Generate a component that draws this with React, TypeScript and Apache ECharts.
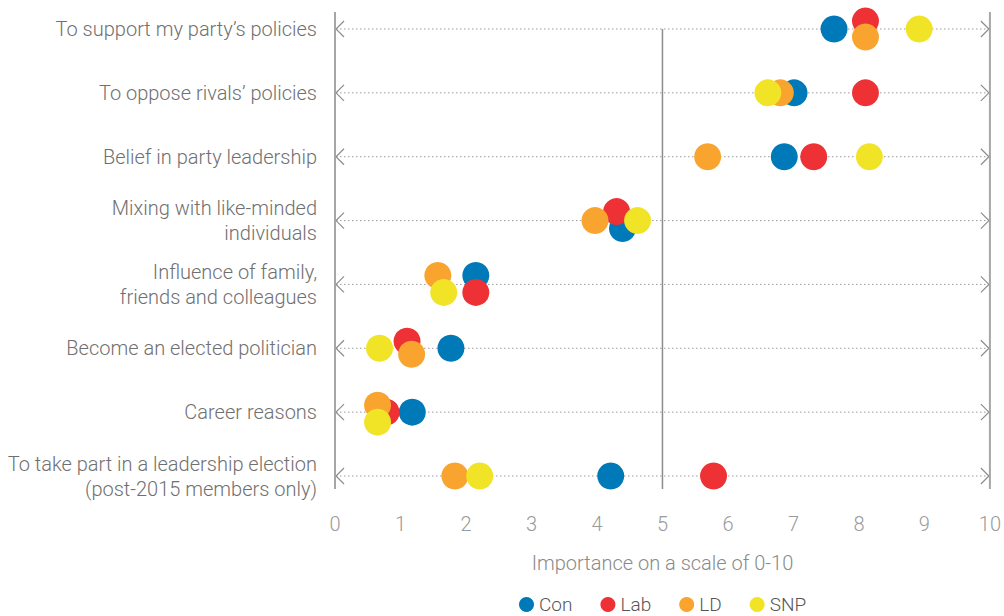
import React, { useEffect, useRef } from "react";
import * as echarts from "echarts";

const categories = [
  "To support my party’s policies",
  "To oppose rivals’ policies",
  "Belief in party leadership",
  "Mixing with like-minded\nindividuals",
  "Influence of family,\nfriends and colleagues",
  "Become an elected politician",
  "Career reasons",
  "To take part in a leadership election\n(post-2015 members only)",
];

const xTicks = [0, 10];
const seriesNames = ["Con", "Lab", "LD", "SNP"];
const con = [7.62, 7.01, 6.86, 4.39, 2.15, 1.77, 1.18, 4.21];
const lab = [8.1, 8.1, 7.31, 4.3, 2.15, 1.1, 0.78, 5.78];
const ld = [8.1, 6.8, 5.69, 3.97, 1.57, 1.17, 0.65, 1.83];
const snp = [8.92, 6.61, 8.16, 4.62, 1.66, 0.68, 0.65, 2.21];

// vertical dodge (px) used to avoid overlapping dots
const conDodge = [0, 0, 0, 8, -9, 0, 0, 0];
const labDodge = [-8, 0, 0, -9, 8, -7, 0, 0];
const ldDodge = [8, 0, 0, 0, -9, 6, -7, 0];
const snpDodge = [0, 0, 0, 0, 8, 0, 10, 0];

const colors = ["#0079B8", "#EE3135", "#F8A42E", "#F1E426"];
const FONT = "Roboto";

export default function App() {
  const ref = useRef<HTMLDivElement>(null);
  useEffect(() => {
    if (!ref.current) return;
    const chart = echarts.init(ref.current, null, { renderer: "svg" });
    const values = [con, lab, ld, snp];
    const dodges = [conDodge, labDodge, ldDodge, snpDodge];
    const scatter = seriesNames.map((name, s) => ({
      name,
      type: "scatter",
      z: 5 + s,
      symbol: "circle",
      symbolSize: 27,
      itemStyle: { color: colors[s], opacity: 1 },
      data: values[s].map((v, i) => ({
        value: [v, categories[i]],
        symbolOffset: [0, dodges[s][i]],
      })),
    }));

    const lastIdx = categories.length - 1;
    const option: any = {
      animation: false,
      textStyle: { fontFamily: FONT, fontWeight: 300 },
      grid: { left: 335, right: 11, top: 29, height: 447, containLabel: false },
      xAxis: {
        type: "value",
        min: xTicks[0],
        max: xTicks[1],
        interval: 1,
        axisLine: { show: false },
        axisTick: { show: false },
        splitLine: { show: false },
        axisLabel: {
          margin: 38,
          fontSize: 20,
          color: "#9a9a9a",
          fontFamily: FONT,
          fontWeight: 300,
        },
        name: "Importance on a scale of 0-10",
        nameLocation: "middle",
        nameGap: 77,
        nameTextStyle: {
          fontSize: 20,
          color: "#8a8a8a",
          fontFamily: FONT,
          fontWeight: 300,
        },
      },
      yAxis: {
        type: "category",
        data: categories,
        inverse: true,
        boundaryGap: false,
        axisLine: { show: false },
        axisTick: { show: false },
        splitLine: { show: false },
        axisLabel: {
          margin: 18,
          fontSize: 20,
          lineHeight: 25,
          color: "#707070",
          fontFamily: FONT,
          fontWeight: 300,
          align: "right",
          padding: [0, 0, 3, 0],
        },
      },
      legend: {
        data: seriesNames,
        top: 590,
        left: 514,
        icon: "circle",
        itemWidth: 15,
        itemHeight: 15,
        itemGap: 28,
        textStyle: { fontSize: 19, color: "#555", fontFamily: FONT, fontWeight: 300 },
      },
      series: [
        {
          type: "custom",
          silent: true,
          z: 1,
          data: categories.map((c, i) => [0, i]),
          renderItem: (params: any, api: any) => {
            const idx = api.value(1);
            const a = api.coord([0, idx]);
            const b = api.coord([10, idx]);
            const c = "#8c8c8c";
            return {
              type: "group",
              children: [
                {
                  type: "line",
                  shape: { x1: a[0] + 1, y1: a[1], x2: b[0] - 1, y2: b[1] },
                  style: { stroke: "#9a9a9a", lineWidth: 1, lineDash: [1.5, 2.5] },
                },
                {
                  type: "polyline",
                  shape: { points: [[a[0] + 9, a[1] - 8], [a[0] + 1, a[1]], [a[0] + 9, a[1] + 8]] },
                  style: { stroke: c, lineWidth: 1.2, fill: null },
                },
                {
                  type: "polyline",
                  shape: { points: [[b[0] - 9, b[1] - 8], [b[0] - 1, b[1]], [b[0] - 9, b[1] + 8]] },
                  style: { stroke: c, lineWidth: 1.2, fill: null },
                },
              ],
            };
          },
        },
        {
          type: "custom",
          silent: true,
          z: 2,
          data: [[0, 0]],
          renderItem: (params: any, api: any) => {
            const top0 = api.coord([0, 0]);
            const bot0 = api.coord([0, lastIdx]);
            const top10 = api.coord([10, 0]);
            const mid = api.coord([5, 0]);
            const y1 = top0[1] - 17;
            const y2 = bot0[1] + 13;
            return {
              type: "group",
              children: [
                {
                  type: "line",
                  shape: { x1: top0[0], y1, x2: top0[0], y2 },
                  style: { stroke: "#a6a6a6", lineWidth: 2 },
                },
                {
                  type: "line",
                  shape: { x1: top10[0], y1, x2: top10[0], y2 },
                  style: { stroke: "#a6a6a6", lineWidth: 2 },
                },
                {
                  type: "line",
                  shape: { x1: mid[0], y1: mid[1], x2: mid[0], y2 },
                  style: { stroke: "#8c8c8c", lineWidth: 1.5 },
                },
              ],
            };
          },
        },
        ...scatter,
      ],
    };
    chart.setOption(option);
    return () => chart.dispose();
  }, []);
  return (
    <div
      ref={ref}
      style={{ position: "fixed", left: 0, top: 0, width: 1004, height: 616, background: "#fff" }}
    />
  );
}
